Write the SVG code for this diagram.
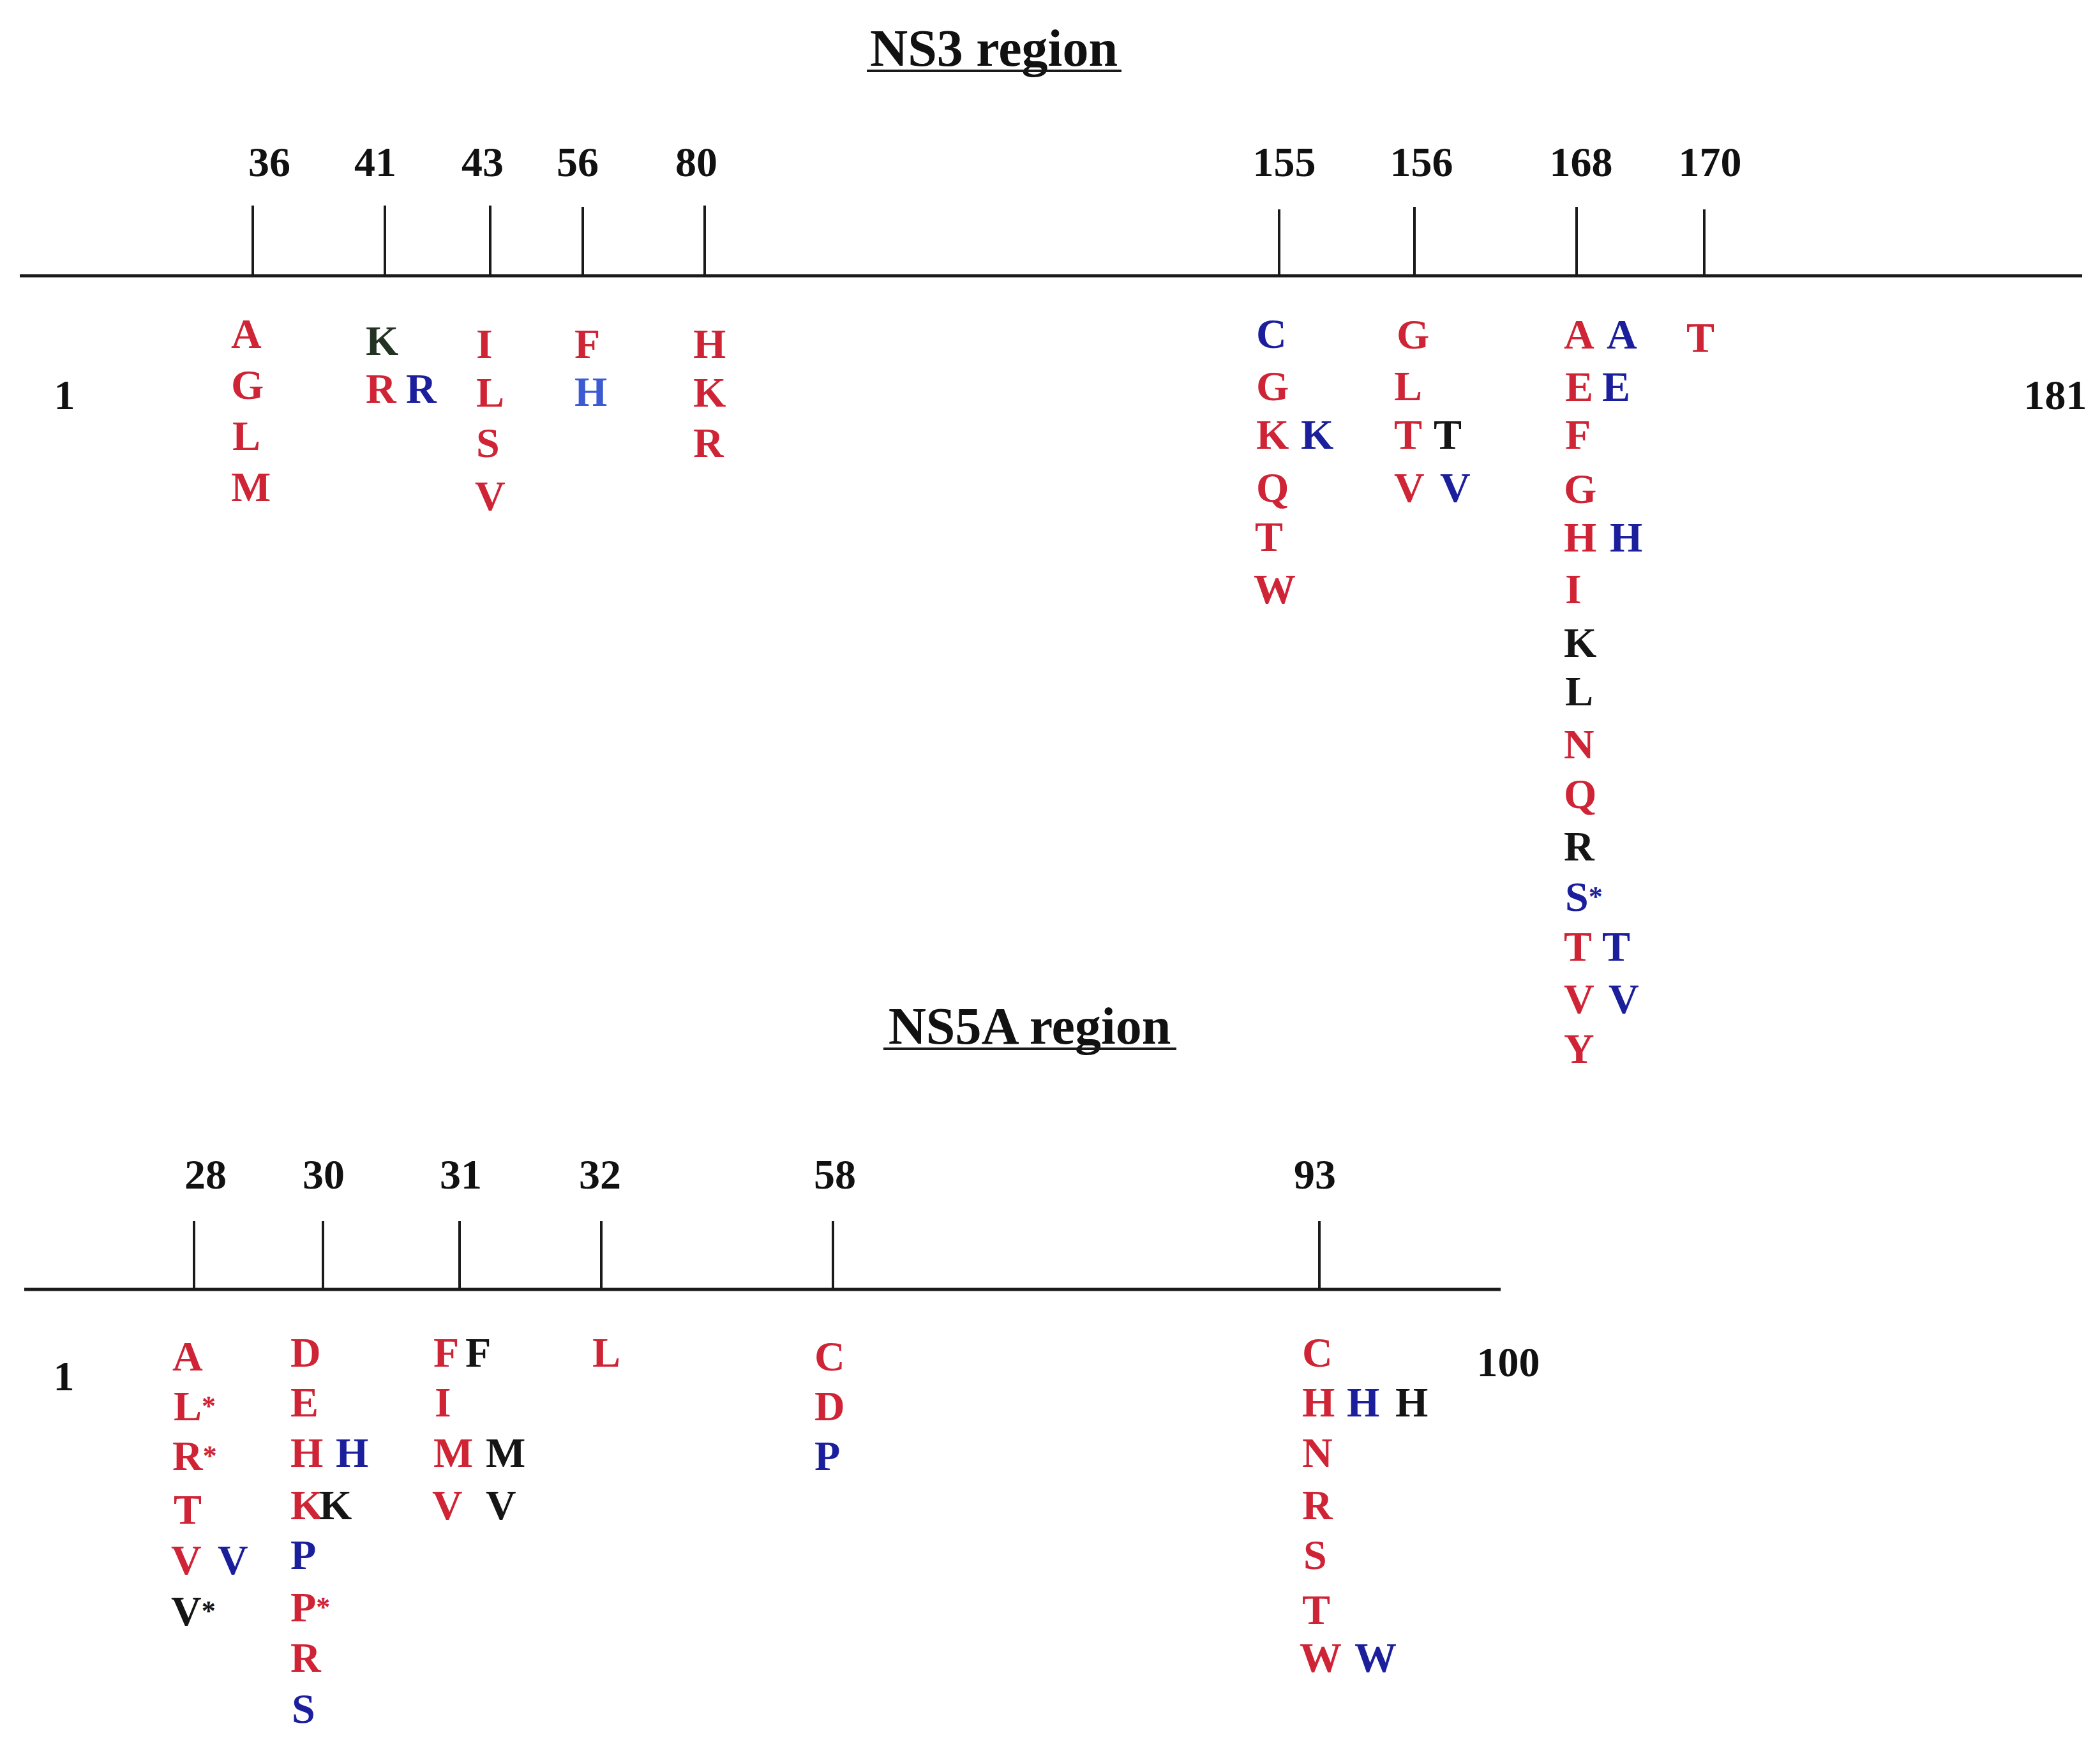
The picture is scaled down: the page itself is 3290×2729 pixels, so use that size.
<svg xmlns="http://www.w3.org/2000/svg" width="3290" height="2729" viewBox="0 0 3290 2729">
<style>
text{font-family:"Liberation Serif","Times New Roman",serif;font-weight:bold}
.ttl{font-size:82px;fill:#111;text-anchor:middle}
.num{font-size:66px;fill:#111;text-anchor:middle}
.aa{font-size:66px}
.st{font-size:44px}
.r{fill:#cf2436}
.b{fill:#1c1f9c}
.lb{fill:#3c5ad2}
.k{fill:#151515}
.kg{fill:#233323}
.ax{stroke:#1a1a1a;stroke-width:5;fill:none}
.tk{stroke:#1a1a1a;stroke-width:4;fill:none}
.ul{stroke:#1a1a1a;stroke-width:4}
</style>
<rect width="3290" height="2729" fill="#ffffff"/>

<g id="ns3-title">
<text class="ttl" x="1557" y="103">NS3 region</text>
<line class="ul" x1="1358" y1="111" x2="1757" y2="111"/>
</g>

<g id="connectors">
<line class="ax" x1="31" y1="432" x2="3262" y2="432"/>
<line class="tk" x1="396" y1="322" x2="396" y2="432"/>
<line class="tk" x1="603" y1="322" x2="603" y2="432"/>
<line class="tk" x1="768" y1="322" x2="768" y2="432"/>
<line class="tk" x1="913" y1="324" x2="913" y2="432"/>
<line class="tk" x1="1104" y1="322" x2="1104" y2="432"/>
<line class="tk" x1="2004" y1="328" x2="2004" y2="432"/>
<line class="tk" x1="2216" y1="324" x2="2216" y2="432"/>
<line class="tk" x1="2470" y1="324" x2="2470" y2="432"/>
<line class="tk" x1="2670" y1="328" x2="2670" y2="432"/>
<line class="ax" x1="38" y1="2020" x2="2351" y2="2020"/>
<line class="tk" x1="304" y1="1913" x2="304" y2="2020"/>
<line class="tk" x1="506" y1="1913" x2="506" y2="2020"/>
<line class="tk" x1="720" y1="1913" x2="720" y2="2020"/>
<line class="tk" x1="942" y1="1913" x2="942" y2="2020"/>
<line class="tk" x1="1305" y1="1913" x2="1305" y2="2020"/>
<line class="tk" x1="2067" y1="1913" x2="2067" y2="2020"/>
</g>

<g id="ns3-scale">
<text class="num" x="422" y="276">36</text>
<text class="num" x="588" y="276">41</text>
<text class="num" x="756" y="276">43</text>
<text class="num" x="905" y="276">56</text>
<text class="num" x="1091" y="276">80</text>
<text class="num" x="2012" y="276">155</text>
<text class="num" x="2227" y="276">156</text>
<text class="num" x="2477" y="276">168</text>
<text class="num" x="2679" y="276">170</text>
<text class="num" x="101" y="641">1</text>
<text class="num" x="3220" y="641">181</text>
</g>

<g id="ns3-pos36" class="aa">
<text class="r" x="362" y="545">A</text>
<text class="r" x="362" y="625">G</text>
<text class="r" x="364" y="705">L</text>
<text class="r" x="362" y="785">M</text>
</g>
<g id="ns3-pos41" class="aa">
<text class="kg" x="573" y="556">K</text>
<text class="r" x="573" y="631">R</text>
<text class="b" x="636" y="631">R</text>
</g>
<g id="ns3-pos43" class="aa">
<text class="r" x="746" y="561">I</text>
<text class="r" x="746" y="637">L</text>
<text class="r" x="746" y="716">S</text>
<text class="r" x="744" y="799">V</text>
</g>
<g id="ns3-pos56" class="aa">
<text class="r" x="900" y="561">F</text>
<text class="lb" x="900" y="636">H</text>
</g>
<g id="ns3-pos80" class="aa">
<text class="r" x="1086" y="561">H</text>
<text class="r" x="1086" y="637">K</text>
<text class="r" x="1086" y="716">R</text>
</g>
<g id="ns3-pos155" class="aa">
<text class="b" x="1968" y="545">C</text>
<text class="r" x="1968" y="627">G</text>
<text class="r" x="1968" y="703">K</text>
<text class="b" x="2038" y="703">K</text>
<text class="r" x="1968" y="786">Q</text>
<text class="r" x="1966" y="863">T</text>
<text class="r" x="1964" y="945">W</text>
</g>
<g id="ns3-pos156" class="aa">
<text class="r" x="2188" y="546">G</text>
<text class="r" x="2184" y="627">L</text>
<text class="r" x="2184" y="703">T</text>
<text class="k" x="2246" y="703">T</text>
<text class="r" x="2184" y="786">V</text>
<text class="b" x="2256" y="786">V</text>
</g>
<g id="ns3-pos168" class="aa">
<text class="r" x="2450" y="546">A</text>
<text class="b" x="2517" y="546">A</text>
<text class="r" x="2452" y="628">E</text>
<text class="b" x="2510" y="628">E</text>
<text class="r" x="2452" y="703">F</text>
<text class="r" x="2450" y="788">G</text>
<text class="r" x="2450" y="864">H</text>
<text class="b" x="2522" y="864">H</text>
<text class="r" x="2452" y="945">I</text>
<text class="k" x="2450" y="1029">K</text>
<text class="k" x="2452" y="1105">L</text>
<text class="r" x="2450" y="1188">N</text>
<text class="r" x="2450" y="1266">Q</text>
<text class="k" x="2450" y="1348">R</text>
<text class="b" x="2452" y="1427">S<tspan class="st" dy="-8">*</tspan></text>
<text class="r" x="2450" y="1505">T</text>
<text class="b" x="2510" y="1505">T</text>
<text class="r" x="2450" y="1587">V</text>
<text class="b" x="2520" y="1587">V</text>
<text class="r" x="2450" y="1665">Y</text>
</g>
<g id="ns3-pos170" class="aa">
<text class="r" x="2642" y="551">T</text>
</g>

<g id="ns5a-title">
<text class="ttl" x="1613" y="1635">NS5A region</text>
<line class="ul" x1="1384" y1="1643" x2="1843" y2="1643"/>
</g>

<g id="ns5a-scale">
<text class="num" x="322" y="1862">28</text>
<text class="num" x="507" y="1862">30</text>
<text class="num" x="722" y="1862">31</text>
<text class="num" x="940" y="1862">32</text>
<text class="num" x="1308" y="1862">58</text>
<text class="num" x="2060" y="1862">93</text>
<text class="num" x="100" y="2178">1</text>
<text class="num" x="2363" y="2156">100</text>
</g>

<g id="ns5a-pos28" class="aa">
<text class="r" x="270" y="2147">A</text>
<text class="r" x="272" y="2225">L<tspan class="st" dy="-8">*</tspan></text>
<text class="r" x="270" y="2303">R<tspan class="st" dy="-8">*</tspan></text>
<text class="r" x="272" y="2387">T</text>
<text class="r" x="268" y="2466">V</text>
<text class="b" x="341" y="2466">V</text>
<text class="k" x="268" y="2546">V<tspan class="st" dy="-8">*</tspan></text>
</g>
<g id="ns5a-pos30" class="aa">
<text class="r" x="455" y="2141">D</text>
<text class="r" x="455" y="2219">E</text>
<text class="r" x="455" y="2298">H</text>
<text class="b" x="526" y="2298">H</text>
<text class="r" x="455" y="2380">K</text>
<text class="k" x="500" y="2380">K</text>
<text class="b" x="455" y="2458">P</text>
<text class="r" x="455" y="2540">P<tspan class="st" dy="-8">*</tspan></text>
<text class="r" x="455" y="2619">R</text>
<text class="b" x="457" y="2699">S</text>
</g>
<g id="ns5a-pos31" class="aa">
<text class="r" x="679" y="2141">F</text>
<text class="k" x="729" y="2141">F</text>
<text class="r" x="681" y="2219">I</text>
<text class="r" x="679" y="2298">M</text>
<text class="k" x="761" y="2298">M</text>
<text class="r" x="677" y="2380">V</text>
<text class="k" x="761" y="2380">V</text>
</g>
<g id="ns5a-pos32" class="aa">
<text class="r" x="928" y="2141">L</text>
</g>
<g id="ns5a-pos58" class="aa">
<text class="r" x="1276" y="2147">C</text>
<text class="r" x="1276" y="2225">D</text>
<text class="b" x="1276" y="2303">P</text>
</g>
<g id="ns5a-pos93" class="aa">
<text class="r" x="2040" y="2141">C</text>
<text class="r" x="2040" y="2219">H</text>
<text class="b" x="2110" y="2219">H</text>
<text class="k" x="2186" y="2219">H</text>
<text class="r" x="2040" y="2298">N</text>
<text class="r" x="2040" y="2380">R</text>
<text class="r" x="2042" y="2458">S</text>
<text class="r" x="2040" y="2544">T</text>
<text class="r" x="2036" y="2619">W</text>
<text class="b" x="2122" y="2619">W</text>
</g>
</svg>
